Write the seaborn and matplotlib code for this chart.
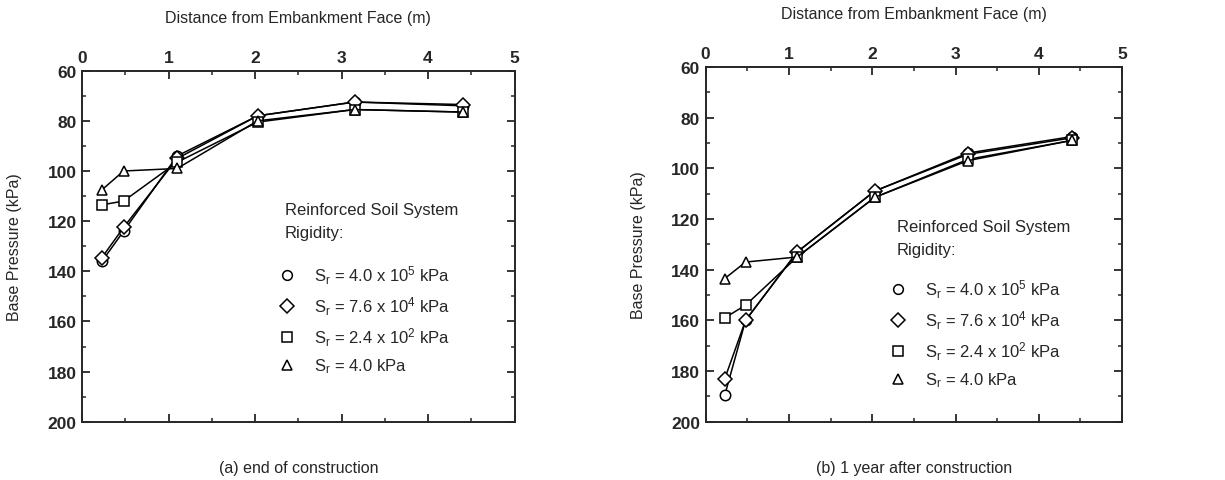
import pandas as pd
import matplotlib.pyplot as plt
import seaborn as sns
from matplotlib.lines import Line2D
from matplotlib.ticker import MultipleLocator

# distances of the pressure cells (m)
distance = [0.23, 0.48, 1.1, 2.03, 3.15, 4.4]

series_names = [
    r"S$_\mathregular{r}$ = 4.0 x 10$^\mathregular{5}$ kPa",
    r"S$_\mathregular{r}$ = 7.6 x 10$^\mathregular{4}$ kPa",
    r"S$_\mathregular{r}$ = 2.4 x 10$^\mathregular{2}$ kPa",
    r"S$_\mathregular{r}$ = 4.0 kPa",
]
marker_list = ["o", "D", "s", "^"]

# (a) end of construction
end_circle = [136, 124, 94, 78, 72.5, 74]
end_diamond = [134.5, 122.5, 95, 78, 72.5, 73.5]
end_square = [113.5, 112, 96.5, 80.5, 75.5, 76.5]
end_triangle = [107.5, 100, 99, 80, 75.5, 76.5]

# (b) 1 year after construction
yr_circle = [189.5, 160, 133, 109, 94, 87.5]
yr_diamond = [183, 160, 133, 109, 94.5, 88]
yr_square = [159, 154, 135, 111.5, 96.5, 89]
yr_triangle = [143.5, 137, 135, 111.5, 97, 89]

captions = ["(a) end of construction", "(b) 1 year after construction"]
legend_title = "Reinforced Soil System\nRigidity:"


def make_frame(cols):
    rows = []
    for name, vals in zip(series_names, cols):
        for d, v in zip(distance, vals):
            rows.append({"dist": d, "pressure": v, "series": name})
    return pd.DataFrame(rows)


df_a = make_frame([end_circle, end_diamond, end_square, end_triangle])
df_b = make_frame([yr_circle, yr_diamond, yr_square, yr_triangle])

sns.set_style("ticks")
plt.rcParams["font.family"] = ["Liberation Sans", "DejaVu Sans"]
plt.rcParams["mathtext.default"] = "regular"

fig = plt.figure(figsize=(12.25, 4.81), dpi=100)
ax_a = fig.add_axes([0.067, 0.121, 0.353, 0.730])
ax_b = fig.add_axes([0.576, 0.121, 0.340, 0.738])

title_pos = [(0.469, 0.627), (0.459, 0.572)]
legend_pos = [(0.421, 0.493), (0.406, 0.448)]

for ax, df, cap, tpos, lpos in zip([ax_a, ax_b], [df_a, df_b], captions,
                                   title_pos, legend_pos):
    sns.lineplot(data=df, x="dist", y="pressure", hue="series", style="series",
                 palette=["black"] * 4, markers=marker_list, dashes=False,
                 markersize=7.5, markerfacecolor="white", markeredgecolor="black",
                 markeredgewidth=1.1, linewidth=1.1, legend=False, ax=ax)
    ax.set_xlim(0, 5)
    ax.set_ylim(200, 60)
    ax.xaxis.tick_top()
    ax.xaxis.set_label_position("top")
    ax.xaxis.set_major_locator(MultipleLocator(1))
    ax.xaxis.set_minor_locator(MultipleLocator(0.5))
    ax.yaxis.set_major_locator(MultipleLocator(20))
    ax.yaxis.set_minor_locator(MultipleLocator(10))
    ax.tick_params(which="both", direction="in", top=True, bottom=True,
                   left=True, right=True, labelsize=12.5, pad=4)
    ax.tick_params(which="major", length=6, width=1.3)
    ax.tick_params(which="minor", length=3, width=1.1)
    for lab in ax.get_xticklabels() + ax.get_yticklabels():
        lab.set_fontweight("bold")
    for sp in ax.spines.values():
        sp.set_visible(True)
        sp.set_linewidth(1.4)
    ax.set_xlabel("Distance from Embankment Face (m)", fontsize=11.5, labelpad=20)
    ax.set_ylabel("Base Pressure (kPa)", fontsize=11.5, labelpad=18)
    ax.text(0.5, -0.13, cap, transform=ax.transAxes, ha="center", va="center",
            fontsize=11.5)

    ax.text(tpos[0], tpos[1], legend_title, transform=ax.transAxes,
            ha="left", va="top", fontsize=12, linespacing=1.7)
    handles = [Line2D([], [], color="black", linestyle="none", marker=m,
                      markersize=7, markerfacecolor="white", markeredgewidth=1.1)
               for m in marker_list]
    ax.legend(handles, series_names, loc="upper left", bbox_to_anchor=lpos,
              frameon=False, fontsize=12, handlelength=1.0,
              handletextpad=1.1, labelspacing=0.5)

fig.savefig("out.png", dpi=100)
